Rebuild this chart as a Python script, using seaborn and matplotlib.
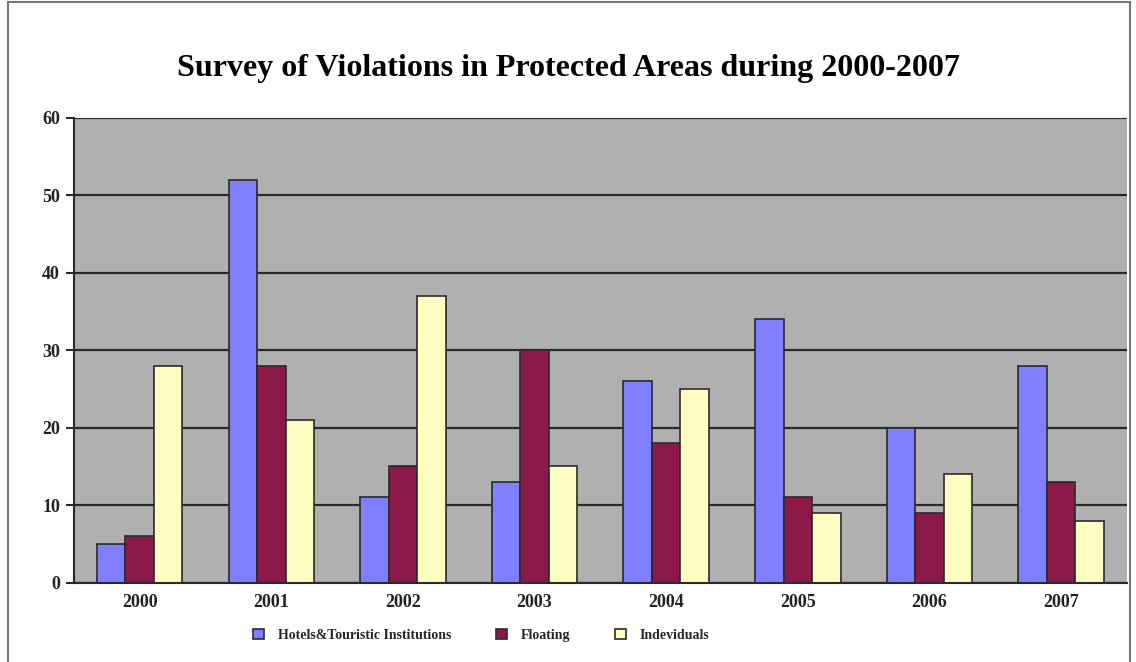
import numpy as np
import pandas as pd
import matplotlib.pyplot as plt
import seaborn as sns
from matplotlib.patches import Rectangle

# data
years = ['2000', '2001', '2002', '2003', '2004', '2005', '2006', '2007']
hotels = [5, 52, 11, 13, 26, 34, 20, 28]
floating = [6, 28, 15, 30, 18, 11, 9, 13]
individuals = [28, 21, 37, 15, 25, 9, 14, 8]
series = ['Hotels&Touristic Institutions', 'Floating', 'Indeviduals']
colors = ['#8080FF', '#8B1A4B', '#FFFFC4']

df = pd.DataFrame({'year': years * 3,
                   'value': hotels + floating + individuals,
                   'series': [s for s in series for _ in years]})

sns.set_style('white')
plt.rcParams['font.family'] = ['Liberation Serif', 'DejaVu Serif']
plt.rcParams['font.weight'] = 'bold'

fig = plt.figure(figsize=(11.36, 6.62), dpi=100)
ax = fig.add_axes([0.065, 0.12, 0.927, 0.702])

sns.barplot(data=df, x='year', y='value', hue='series', palette=colors,
            width=0.65, gap=0.0, edgecolor='#2a2a2a', linewidth=1.2, ax=ax,
            saturation=1)

ax.set_facecolor('#B0B0B0')
ax.set_ylim(0, 60)
ax.set_yticks(range(0, 61, 10))
ax.yaxis.grid(True, color='#2a2a2a', linewidth=1.6)
ax.set_axisbelow(True)
ax.tick_params(axis='y', length=6, width=1.5, color='#2a2a2a', labelsize=13, pad=4, left=True)
ax.tick_params(axis='x', length=0, labelsize=13, pad=8)
for s in ['top', 'right']:
    ax.spines[s].set_visible(False)
ax.spines['left'].set_color('#2a2a2a')
ax.spines['left'].set_linewidth(1.5)
ax.spines['bottom'].set_color('#2a2a2a')
ax.spines['bottom'].set_linewidth(1.5)
ax.set_xlabel('')
ax.set_ylabel('')
for t in ax.get_xticklabels() + ax.get_yticklabels():
    t.set_fontweight('bold')
    t.set_color('#222222')

ax.legend(loc='upper center', bbox_to_anchor=(0.387, -0.072), ncol=3, frameon=False,
          prop={'family': 'Liberation Serif', 'weight': 'bold', 'size': 10},
          handlelength=0.8, handleheight=0.8, columnspacing=3.2, handletextpad=1.0)

fig.text(0.5, 0.897, 'Survey of Violations in Protected Areas during 2000-2007',
         ha='center', va='center', fontsize=23, fontweight='bold', color='black')

fig.patches.append(Rectangle((0.007, -0.01), 0.988, 1.007, transform=fig.transFigure,
                             fill=False, edgecolor='#777777', linewidth=1.5))

fig.savefig('out.png', dpi=100)
